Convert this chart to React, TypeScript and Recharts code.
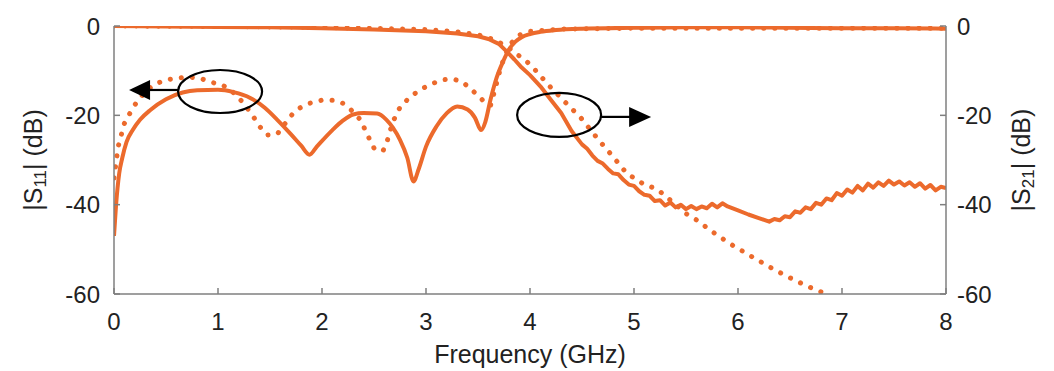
import { LineChart, Line, XAxis, YAxis, ReferenceDot } from 'recharts';

const ORANGE = '#EC6A2C';
const AXIS = '#7f7f7f';
const TEXT = '#222222';
const FONT = '"Liberation Sans", Arial, sans-serif';

const freqTicks = [0, 1, 2, 3, 4, 5, 6, 7, 8];
const dbTicks = [-60, -40, -20, 0];

// |S11| solid trace (left axis)
const s11SolidFreq = [0, 0.02, 0.05, 0.08, 0.12, 0.18, 0.25, 0.35, 0.5, 0.66, 0.8, 1.0, 1.15, 1.31, 1.45, 1.57, 1.7, 1.8, 1.88, 1.95, 2.1, 2.2, 2.3, 2.4, 2.53, 2.62, 2.68, 2.75, 2.82, 2.88, 2.93, 3.0, 3.1, 3.2, 3.3, 3.4, 3.47, 3.53, 3.57, 3.62, 3.68, 3.74, 3.8, 3.86, 3.92, 4.0, 4.1, 4.25, 4.5, 5.0, 5.5, 6.0, 6.5, 7.0, 7.5, 8.0];
const s11SolidDb = [-47, -40, -33, -29.5, -26, -23.3, -21, -18.8, -16.4, -14.9, -14.4, -14.3, -14.8, -16.1, -18.3, -21, -24.2, -26.8, -28.8, -27, -23.3, -21.2, -19.8, -19.5, -19.6, -21, -22.7, -25.5, -29.5, -34.8, -32, -27, -22.5, -19.5, -18, -18.7, -20.5, -23.3, -21.5, -16.5, -11.5, -8, -5.2, -3.5, -2.5, -1.8, -1.3, -0.9, -0.6, -0.4, -0.3, -0.3, -0.4, -0.5, -0.5, -0.6];

// |S11| dotted trace (left axis)
const s11DotFreq = [0, 0.04, 0.1, 0.17, 0.23, 0.3, 0.38, 0.49, 0.6, 0.71, 0.83, 0.92, 1.04, 1.12, 1.2, 1.27, 1.34, 1.4, 1.47, 1.57, 1.64, 1.71, 1.79, 1.88, 2.0, 2.11, 2.2, 2.28, 2.37, 2.46, 2.51, 2.59, 2.63, 2.68, 2.75, 2.85, 2.95, 3.05, 3.15, 3.25, 3.35, 3.45, 3.52, 3.58, 3.62, 3.66, 3.71, 3.76, 3.82, 3.9, 4.0, 4.3, 5.0, 6.0, 7.0, 8.0];
const s11DotDb = [-34, -27, -21.8, -18.8, -16.6, -14.8, -13.2, -12.1, -11.7, -11.4, -11.7, -12.5, -13.2, -14.3, -16.1, -18, -20.3, -22.5, -24.4, -24.2, -22, -19.9, -18.3, -17.3, -16.6, -16.6, -17.3, -18.8, -21, -25.5, -27.8, -27.8, -25.5, -21.5, -18.2, -15.8, -14.2, -13, -12.1, -11.8, -12.5, -14.5, -16, -17.5, -17.8, -14.5, -10, -6.5, -3.8, -2, -1.2, -0.7, -0.5, -0.5, -0.5, -0.5];

// |S21| solid trace (right axis)
const s21SolidFreq = [0, 0.5, 1, 1.5, 2, 2.5, 3, 3.3, 3.5, 3.6, 3.7, 3.78, 3.85, 3.92, 4.0, 4.1, 4.2, 4.3, 4.4, 4.5, 4.55, 4.6, 4.65, 4.7, 4.75, 4.8, 4.85, 4.9, 4.95, 5.0, 5.05, 5.1, 5.15, 5.2, 5.25, 5.3, 5.35, 5.4, 5.45, 5.5, 5.55, 5.6, 5.65, 5.7, 5.75, 5.8, 5.85, 5.9, 6.0, 6.1, 6.2, 6.3, 6.35, 6.4, 6.45, 6.5, 6.55, 6.6, 6.65, 6.7, 6.75, 6.8, 6.85, 6.9, 6.95, 7.0, 7.05, 7.1, 7.15, 7.2, 7.25, 7.3, 7.35, 7.4, 7.45, 7.5, 7.55, 7.6, 7.65, 7.7, 7.75, 7.8, 7.85, 7.9, 7.95, 8.0];
const s21SolidDb = [0, -0.1, -0.2, -0.3, -0.5, -0.8, -1.2, -1.7, -2.3, -2.9, -4, -5.8, -7.5, -9.3, -11, -13.5, -16.5, -19.5, -23.5, -26.5, -27.5, -29, -30.2, -30.8, -32, -33, -33.2, -34.5, -35.5, -35.8, -37, -37.8, -38, -39.2, -39, -40.2, -39.5, -40.6, -40, -41, -40.3, -41, -40.4, -40.8, -39.8, -40.6, -39.7, -40.4, -41.3, -42.2, -43, -43.8, -43.2, -43.5, -42.6, -42.8, -41.5, -41.8, -40.6, -41, -39.6, -40, -38.6, -39, -37.4, -38, -36.6, -37.3, -35.8, -36.8, -35.3, -36.2, -35, -35.8, -34.6, -35.5, -34.8, -35.7, -35, -36, -35.2, -36.4, -35.6, -36.8, -36, -36.3];

// |S21| dotted trace (right axis)
const s21DotFreq = [0, 1, 2, 3, 3.3, 3.5, 3.6, 3.7, 3.8, 3.87, 3.93, 4.0, 4.08, 4.16, 4.24, 4.32, 4.4, 4.48, 4.6, 4.7, 4.8, 4.93, 5.0, 5.1, 5.22, 5.3, 5.4, 5.5, 5.6, 5.75, 5.92, 6.1, 6.3, 6.45, 6.6, 6.72, 6.85];
const s21DotDb = [0, -0.1, -0.3, -0.8, -1.3, -2, -2.6, -3.6, -5, -6.3, -7.2, -8.6, -10.6, -12.8, -14.7, -16.6, -18.5, -20.3, -23.8, -26.6, -29.3, -33, -34, -35.5, -36.5, -38, -40, -42, -43.4, -46, -48.7, -51.2, -53.9, -55.8, -57.5, -58.8, -60];

const toPoints = (f: number[], v: number[]) => f.map((x, i) => ({ f: x, db: v[i] }));

const s11Solid = toPoints(s11SolidFreq, s11SolidDb);
const s11Dot = toPoints(s11DotFreq, s11DotDb);
const s21Solid = toPoints(s21SolidFreq, s21SolidDb);
const s21Dot = toPoints(s21DotFreq, s21DotDb);

const tickStyle = { fill: TEXT, fontSize: 24, fontFamily: FONT };

function SParamTitle({ cx, cy, sub }: { cx: number; cy: number; sub: string }) {
  return (
    <text
      x={cx}
      y={cy}
      transform={`rotate(-90, ${cx}, ${cy})`}
      textAnchor="middle"
      dominantBaseline="central"
      fill={TEXT}
      fontSize={25}
      fontFamily={FONT}
    >
      |S
      <tspan fontSize={17} dy={7}>{sub}</tspan>
      <tspan dy={-7}>| (dB)</tspan>
    </text>
  );
}

// ellipse + arrow pointing at the left axis
const LeftMarker = (p: any) => {
  const { cx, cy } = p;
  return (
    <g>
      <ellipse cx={cx} cy={cy} rx={42} ry={21.5} fill="none" stroke="#000" strokeWidth={2.2} />
      <line x1={cx - 42} y1={cy - 1.5} x2={cx - 72} y2={cy - 1.5} stroke="#000" strokeWidth={2.2} />
      <polygon points={`${cx - 70},${cy - 11.5} ${cx - 70},${cy + 8.5} ${cx - 91},${cy - 1.5}`} fill="#000" />
    </g>
  );
};

// ellipse + arrow pointing at the right axis
const RightMarker = (p: any) => {
  const { cx, cy } = p;
  return (
    <g>
      <ellipse cx={cx} cy={cy} rx={42} ry={22} fill="none" stroke="#000" strokeWidth={2.2} />
      <line x1={cx + 42} y1={cy + 2} x2={cx + 72} y2={cy + 2} stroke="#000" strokeWidth={2.2} />
      <polygon points={`${cx + 70},${cy - 8} ${cx + 70},${cy + 12} ${cx + 92},${cy + 2}`} fill="#000" />
    </g>
  );
};

export default function App() {
  return (
    <div style={{ position: 'absolute', left: 0, top: 0, background: '#fff' }}>
      <LineChart width={1054} height={371} margin={{ top: 26, right: 0, bottom: 0, left: 0 }}>
        <XAxis
          xAxisId="b"
          dataKey="f"
          type="number"
          domain={[0, 8]}
          ticks={freqTicks}
          allowDataOverflow
          height={77}
          stroke={AXIS}
          strokeWidth={1.5}
          tickSize={-6}
          tickMargin={25}
          tick={tickStyle}
          label={{
            content: (props: any) => {
              const vb = props.viewBox || { x: 114, width: 832, y: 294 };
              return (
                <text
                  x={vb.x + vb.width / 2}
                  y={354}
                  textAnchor="middle"
                  dominantBaseline="central"
                  fill={TEXT}
                  fontSize={25}
                  fontFamily={FONT}
                >
                  Frequency (GHz)
                </text>
              );
            },
          }}
        />
        <XAxis
          xAxisId="t"
          orientation="top"
          dataKey="f"
          type="number"
          domain={[0, 8]}
          ticks={freqTicks}
          height={0}
          stroke={AXIS}
          strokeWidth={1.5}
          tickSize={-6}
          tick={() => null}
        />
        <YAxis
          yAxisId="l"
          type="number"
          domain={[-60, 0]}
          ticks={dbTicks}
          allowDataOverflow
          width={114}
          stroke={AXIS}
          strokeWidth={1.5}
          tickSize={-6}
          tickMargin={20}
          tick={tickStyle}
          label={{ content: () => <SParamTitle cx={33} cy={160} sub="11" /> }}
        />
        <YAxis
          yAxisId="r"
          orientation="right"
          type="number"
          domain={[-60, 0]}
          ticks={dbTicks}
          allowDataOverflow
          width={108}
          stroke={AXIS}
          strokeWidth={1.5}
          tickSize={-6}
          tickMargin={17}
          tick={tickStyle}
          label={{ content: () => <SParamTitle cx={1021} cy={160} sub="21" /> }}
        />

        <Line
          xAxisId="b"
          yAxisId="r"
          data={s21Dot}
          dataKey="db"
          type="linear"
          stroke={ORANGE}
          strokeWidth={5}
          strokeLinecap="round"
          strokeDasharray="0.1 11"
          dot={false}
          isAnimationActive={false}
        />
        <Line
          xAxisId="b"
          yAxisId="l"
          data={s11Dot}
          dataKey="db"
          type="linear"
          stroke={ORANGE}
          strokeWidth={5}
          strokeLinecap="round"
          strokeDasharray="0.1 11"
          dot={false}
          isAnimationActive={false}
        />
        <Line
          xAxisId="b"
          yAxisId="r"
          data={s21Solid}
          dataKey="db"
          type="linear"
          stroke={ORANGE}
          strokeWidth={4}
          strokeLinejoin="round"
          dot={false}
          isAnimationActive={false}
        />
        <Line
          xAxisId="b"
          yAxisId="l"
          data={s11Solid}
          dataKey="db"
          type="monotone"
          stroke={ORANGE}
          strokeWidth={4}
          dot={false}
          isAnimationActive={false}
        />

        <ReferenceDot xAxisId="b" yAxisId="l" x={1.02} y={-14.66} r={0} shape={LeftMarker} />
        <ReferenceDot xAxisId="b" yAxisId="r" x={4.28} y={-19.9} r={0} shape={RightMarker} />
      </LineChart>
    </div>
  );
}
